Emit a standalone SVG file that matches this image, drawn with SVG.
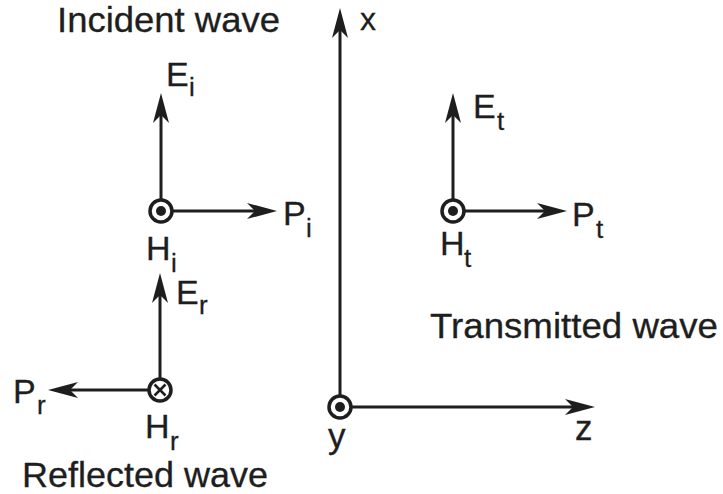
<svg xmlns="http://www.w3.org/2000/svg" width="723" height="494" viewBox="0 0 723 494">
<style>
.t{font-family:"Liberation Sans",Arial,sans-serif;fill:#1e1e1e;stroke:#1e1e1e;stroke-width:0.3}
.big{font-size:35px}
.lb{font-size:34px}
.sb{font-size:26px}
.ln{stroke:#1e1e1e;stroke-width:3;fill:none;marker-end:url(#ah)}
.ring{fill:#fff;stroke:#1e1e1e;stroke-width:3.5}
.dot{fill:#1e1e1e}
.x{stroke:#1e1e1e;stroke-width:2.5}
</style>
<defs>
<marker id="ah" markerUnits="userSpaceOnUse" viewBox="-31 -9 32 18" markerWidth="32" markerHeight="18" refX="-20" refY="0" orient="auto">
<path d="M0,0 L-30,-8 L-22,0 L-30,8 Z" fill="#1e1e1e"/>
</marker>
</defs>
<rect width="723" height="494" fill="#fff"/>
<g id="connectors">
<line class="ln" x1="161" y1="199.5" x2="161" y2="113"/>
<line class="ln" x1="172.5" y1="211" x2="257" y2="211"/>
<line class="ln" x1="160" y1="378.5" x2="160" y2="293"/>
<line class="ln" x1="148.5" y1="390" x2="68" y2="390"/>
<line class="ln" x1="453" y1="199.5" x2="453" y2="113"/>
<line class="ln" x1="464.5" y1="211" x2="547" y2="211"/>
<line class="ln" x1="340" y1="395.5" x2="340" y2="28"/>
<line class="ln" x1="351.5" y1="407" x2="575" y2="407"/>
</g>
<g id="incident">
<circle class="ring" cx="161" cy="211" r="11"/>
<circle class="dot" cx="161" cy="211" r="5"/>
<text class="t big" x="57" y="32" textLength="223" lengthAdjust="spacingAndGlyphs">Incident wave</text>
<text class="t lb" x="166" y="86">E</text><text class="t sb" x="189" y="96">i</text>
<text class="t lb" x="283" y="225">P</text><text class="t sb" x="306" y="237">i</text>
<text class="t lb" x="146" y="260">H</text><text class="t sb" x="171" y="272">i</text>
</g>
<g id="reflected">
<circle class="ring" cx="160" cy="390" r="11"/>
<line class="x" x1="154.5" y1="384.5" x2="165.5" y2="395.5"/>
<line class="x" x1="165.5" y1="384.5" x2="154.5" y2="395.5"/>
<text class="t big" x="22" y="487" textLength="246" lengthAdjust="spacingAndGlyphs">Reflected wave</text>
<text class="t lb" x="176" y="304">E</text><text class="t sb" x="199" y="314">r</text>
<text class="t lb" x="13" y="403">P</text><text class="t sb" x="37" y="414">r</text>
<text class="t lb" x="145" y="438">H</text><text class="t sb" x="170" y="450">r</text>
</g>
<g id="transmitted">
<circle class="ring" cx="453" cy="211" r="11"/>
<circle class="dot" cx="453" cy="211" r="5"/>
<text class="t big" x="430" y="338" textLength="288" lengthAdjust="spacingAndGlyphs">Transmitted wave</text>
<text class="t lb" x="473" y="118">E</text><text class="t sb" x="497" y="130">t</text>
<text class="t lb" x="572" y="226">P</text><text class="t sb" x="596" y="238">t</text>
<text class="t lb" x="440" y="255">H</text><text class="t sb" x="464" y="267">t</text>
</g>
<g id="origin">
<circle class="ring" cx="340" cy="407" r="11"/>
<circle class="dot" cx="340" cy="407" r="5"/>
<text class="t" style="font-size:32px" x="360" y="30">x</text>
<text class="t big" x="575" y="440">z</text>
<text class="t big" x="328" y="448">y</text>
</g>
</svg>
